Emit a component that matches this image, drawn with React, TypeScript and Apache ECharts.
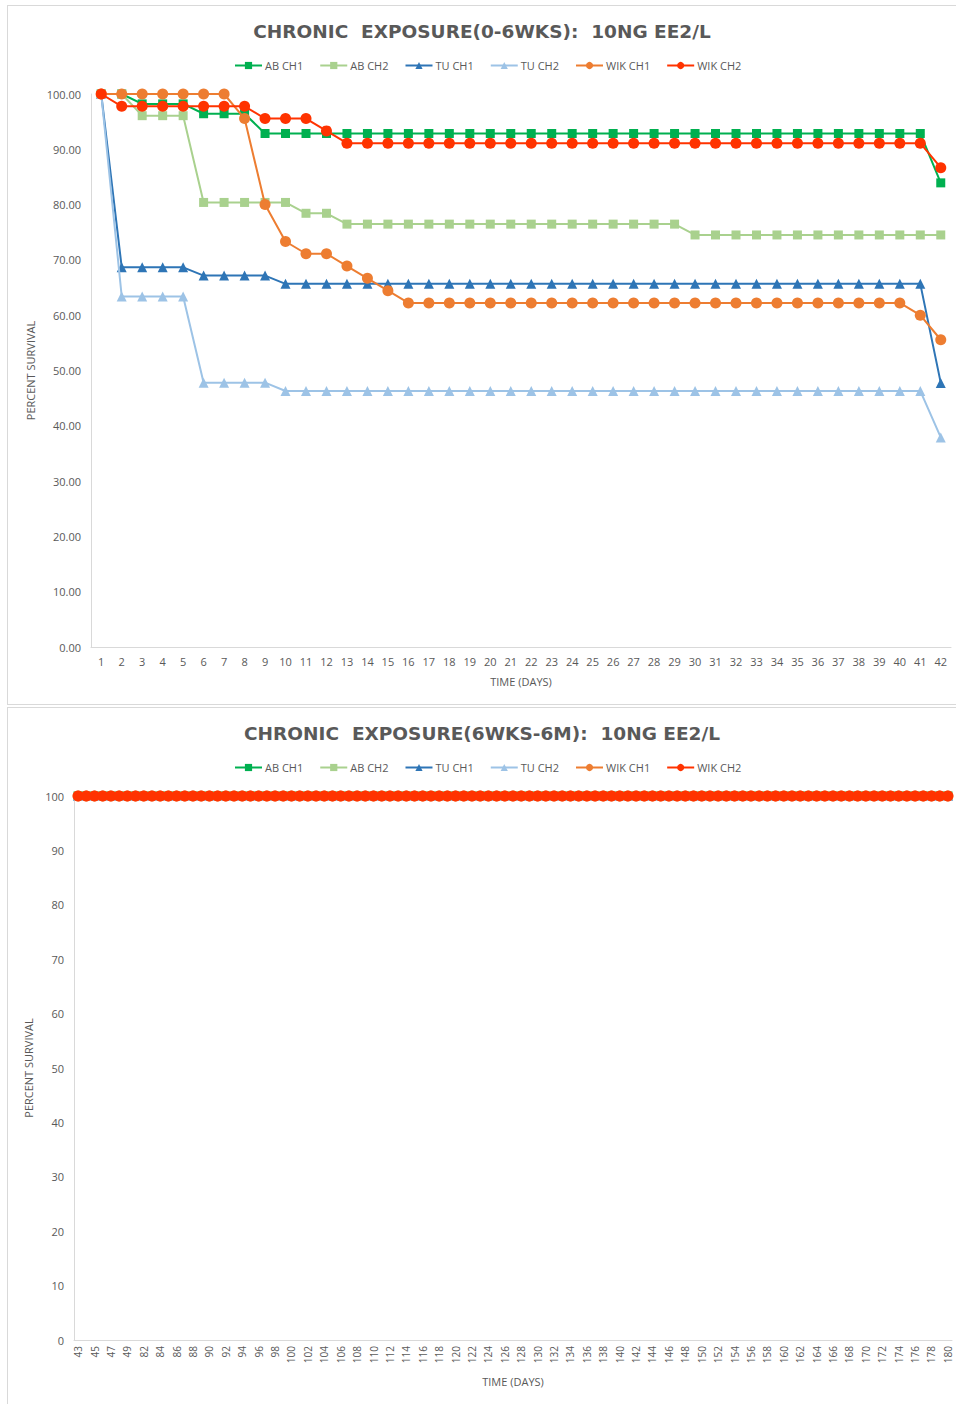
import React, { useEffect, useRef } from "react";
import * as echarts from "echarts";

// ---------- DATA ----------
const earlyDays = [
  "1", "2", "3", "4", "5", "6", "7", "8", "9", "10", "11", "12", "13", "14",
  "15", "16", "17", "18", "19", "20", "21", "22", "23", "24", "25", "26", "27",
  "28", "29", "30", "31", "32", "33", "34", "35", "36", "37", "38", "39", "40",
  "41", "42",
];

const abCh1 = [
  100, 100, 98.21, 98.21, 98.21, 96.43, 96.43, 96.43, 92.86, 92.86, 92.86,
  92.86, 92.86, 92.86, 92.86, 92.86, 92.86, 92.86, 92.86, 92.86, 92.86, 92.86,
  92.86, 92.86, 92.86, 92.86, 92.86, 92.86, 92.86, 92.86, 92.86, 92.86, 92.86,
  92.86, 92.86, 92.86, 92.86, 92.86, 92.86, 92.86, 92.86, 83.93,
];
const abCh2 = [
  100, 100, 96.08, 96.08, 96.08, 80.39, 80.39, 80.39, 80.39, 80.39, 78.43,
  78.43, 76.47, 76.47, 76.47, 76.47, 76.47, 76.47, 76.47, 76.47, 76.47, 76.47,
  76.47, 76.47, 76.47, 76.47, 76.47, 76.47, 76.47, 74.51, 74.51, 74.51, 74.51,
  74.51, 74.51, 74.51, 74.51, 74.51, 74.51, 74.51, 74.51, 74.51,
];
const tuCh1 = [
  100, 68.66, 68.66, 68.66, 68.66, 67.16, 67.16, 67.16, 67.16, 65.67, 65.67,
  65.67, 65.67, 65.67, 65.67, 65.67, 65.67, 65.67, 65.67, 65.67, 65.67, 65.67,
  65.67, 65.67, 65.67, 65.67, 65.67, 65.67, 65.67, 65.67, 65.67, 65.67, 65.67,
  65.67, 65.67, 65.67, 65.67, 65.67, 65.67, 65.67, 65.67, 47.76,
];
const tuCh2 = [
  100, 63.4, 63.4, 63.4, 63.4, 47.8, 47.8, 47.8, 47.8, 46.3, 46.3, 46.3, 46.3,
  46.3, 46.3, 46.3, 46.3, 46.3, 46.3, 46.3, 46.3, 46.3, 46.3, 46.3, 46.3, 46.3,
  46.3, 46.3, 46.3, 46.3, 46.3, 46.3, 46.3, 46.3, 46.3, 46.3, 46.3, 46.3, 46.3,
  46.3, 46.3, 37.9,
];
const wikCh1 = [
  100, 100, 100, 100, 100, 100, 100, 95.56, 80.0, 73.33, 71.11, 71.11, 68.89,
  66.67, 64.44, 62.22, 62.22, 62.22, 62.22, 62.22, 62.22, 62.22, 62.22, 62.22,
  62.22, 62.22, 62.22, 62.22, 62.22, 62.22, 62.22, 62.22, 62.22, 62.22, 62.22,
  62.22, 62.22, 62.22, 62.22, 62.22, 60.0, 55.56,
];
const wikCh2 = [
  100, 97.78, 97.78, 97.78, 97.78, 97.78, 97.78, 97.78, 95.56, 95.56, 95.56,
  93.33, 91.11, 91.11, 91.11, 91.11, 91.11, 91.11, 91.11, 91.11, 91.11, 91.11,
  91.11, 91.11, 91.11, 91.11, 91.11, 91.11, 91.11, 91.11, 91.11, 91.11, 91.11,
  91.11, 91.11, 91.11, 91.11, 91.11, 91.11, 91.11, 91.11, 86.67,
];

const lateDays = [
  "43", "44", "45", "46", "47", "48", "49", "81", "82", "83", "84", "85", "86",
  "87", "88", "89", "90", "91", "92", "93", "94", "95", "96", "97", "98", "99",
  "100", "101", "102", "103", "104", "105", "106", "107", "108", "109", "110",
  "111", "112", "113", "114", "115", "116", "117", "118", "119", "120", "121",
  "122", "123", "124", "125", "126", "127", "128", "129", "130", "131", "132",
  "133", "134", "135", "136", "137", "138", "139", "140", "141", "142", "143",
  "144", "145", "146", "147", "148", "149", "150", "151", "152", "153", "154",
  "155", "156", "157", "158", "159", "160", "161", "162", "163", "164", "165",
  "166", "167", "168", "169", "170", "171", "172", "173", "174", "175", "176",
  "177", "178", "179", "180",
];

const lateSurvival = [
  100, 100, 100, 100, 100, 100, 100, 100, 100, 100, 100, 100, 100, 100, 100,
  100, 100, 100, 100, 100, 100, 100, 100, 100, 100, 100, 100, 100, 100, 100,
  100, 100, 100, 100, 100, 100, 100, 100, 100, 100, 100, 100, 100, 100, 100,
  100, 100, 100, 100, 100, 100, 100, 100, 100, 100, 100, 100, 100, 100, 100,
  100, 100, 100, 100, 100, 100, 100, 100, 100, 100, 100, 100, 100, 100, 100,
  100, 100, 100, 100, 100, 100, 100, 100, 100, 100, 100, 100, 100, 100, 100,
  100, 100, 100, 100, 100, 100, 100, 100, 100, 100, 100, 100, 100, 100, 100,
  100, 100,
];
const lateAbCh1 = lateSurvival;
const lateAbCh2 = lateSurvival;
const lateTuCh1 = lateSurvival;
const lateTuCh2 = lateSurvival;
const lateWikCh1 = lateSurvival;
const lateWikCh2 = lateSurvival;

const seriesNames = ["AB CH1", "AB CH2", "TU CH1", "TU CH2", "WIK CH1", "WIK CH2"];
const yTicks = [0, 10, 20, 30, 40, 50, 60, 70, 80, 90, 100];

// ---------- STYLE ----------
const colors = ["#00B050", "#A9D18E", "#2E75B6", "#9DC3E6", "#ED7D31", "#FF3300"];
const symbols = ["rect", "rect", "triangle", "triangle", "circle", "circle"];
const FONT = "'Open Sans', 'Noto Sans', sans-serif";
const TITLE_FONT = "'DejaVu Sans', 'Open Sans', sans-serif";
const GRAY = "#595959";

function buildOption(
  title: string,
  cats: string[],
  data: number[][],
  grid: any,
  decimals: number,
  late: boolean
) {
  return {
    animation: false,
    backgroundColor: "#ffffff",
    title: {
      text: title,
      left: "center",
      top: 11,
      textStyle: {
        fontFamily: TITLE_FONT,
        fontSize: 18.5,
        fontWeight: "bold",
        color: GRAY,
      },
    },
    legend: {
      top: 49,
      left: 221,
      itemWidth: 27,
      itemHeight: 9,
      itemGap: 16,
      data: seriesNames,
      textStyle: { fontFamily: FONT, fontSize: 11, color: GRAY, padding: [0, 0, 0, -2] },
    },
    grid,
    xAxis: {
      type: "category",
      data: cats,
      boundaryGap: true,
      name: "TIME (DAYS)",
      nameLocation: "middle",
      nameGap: late ? 36 : 29,
      nameTextStyle: { fontFamily: FONT, fontSize: 11, color: GRAY },
      axisLine: { lineStyle: { color: "#d9d9d9", width: 1 } },
      axisTick: { show: false },
      axisLabel: {
        interval: late ? 1 : 0,
        rotate: late ? 90 : 0,
        margin: late ? 6 : 9,
        fontFamily: FONT,
        fontSize: late ? 10 : 11,
        color: GRAY,
      },
      splitLine: { show: false },
    },
    yAxis: {
      type: "value",
      min: yTicks[0],
      max: yTicks[yTicks.length - 1],
      interval: 10,
      name: "PERCENT SURVIVAL",
      nameLocation: "middle",
      nameGap: late ? 37 : 53,
      nameRotate: 90,
      nameTextStyle: { fontFamily: FONT, fontSize: 11, color: GRAY },
      axisLine: { show: true, lineStyle: { color: "#d9d9d9", width: 1 } },
      axisTick: { show: false },
      splitLine: { show: false },
      axisLabel: {
        margin: 10,
        fontFamily: FONT,
        fontSize: 11,
        color: GRAY,
        formatter: (v: number) => v.toFixed(decimals),
      },
    },
    series: data.map((d, i) => ({
      name: seriesNames[i],
      type: "line",
      data: d,
      symbol: symbols[i],
      symbolSize: symbols[i] === "triangle" ? 10 : symbols[i] === "rect" ? 9 : 11,
      showAllSymbol: true,
      color: colors[i],
      lineStyle: { color: colors[i], width: 2 },
      itemStyle: { color: colors[i] },
      z: 2 + i,
    })),
  };
}

function Chart({ option }: { option: any }) {
  const ref = useRef<HTMLDivElement>(null);
  useEffect(() => {
    if (!ref.current) return;
    const chart = echarts.init(ref.current, undefined, { renderer: "svg" });
    chart.setOption(option);
    return () => chart.dispose();
  }, [option]);
  return <div ref={ref} style={{ width: 948, height: 698 }} />;
}

const earlyOption = buildOption(
  "CHRONIC  EXPOSURE(0-6WKS):  10NG EE2/L",
  earlyDays,
  [abCh1, abCh2, tuCh1, tuCh2, wikCh1, wikCh2],
  { left: 83, right: 5, top: 88, bottom: 57 },
  2,
  false
);

const lateOption = buildOption(
  "CHRONIC  EXPOSURE(6WKS-6M):  10NG EE2/L",
  lateDays,
  [lateAbCh1, lateAbCh2, lateTuCh1, lateTuCh2, lateWikCh1, lateWikCh2],
  { left: 66, right: 4, top: 88, bottom: 66 },
  0,
  true
);

export default function App() {
  const panel: React.CSSProperties = {
    position: "absolute",
    left: 7,
    width: 960,
    height: 698,
    border: "1px solid #d9d9d9",
    background: "#fff",
  };
  return (
    <div
      style={{
        position: "absolute",
        left: 0,
        top: 0,
        width: 956,
        height: 1404,
        overflow: "hidden",
        background: "#fff",
      }}
    >
      <div style={{ ...panel, top: 5 }}>
        <Chart option={earlyOption} />
      </div>
      <div style={{ ...panel, top: 707 }}>
        <Chart option={lateOption} />
      </div>
    </div>
  );
}
